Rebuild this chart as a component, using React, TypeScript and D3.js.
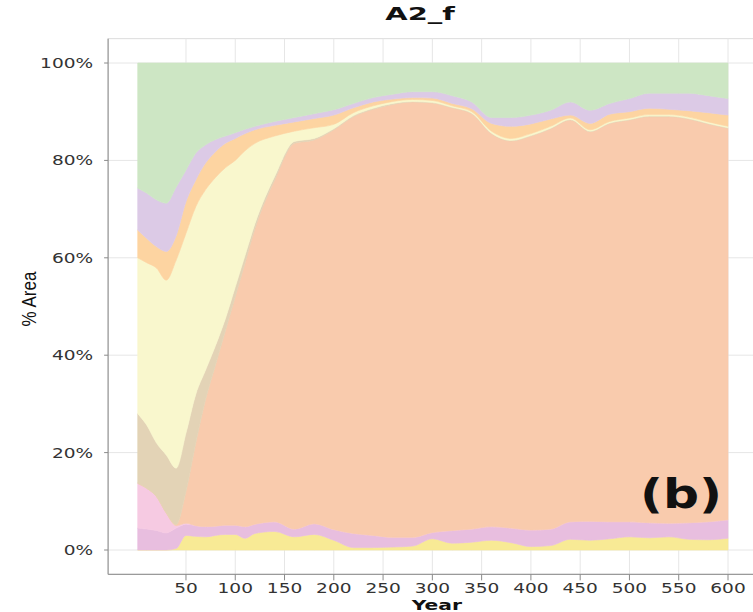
import React, { useEffect, useRef } from "react";
import * as d3 from "d3";

// simulation years (x axis)
const years = [1, 10, 20, 30, 40, 50, 60, 70, 80, 90, 100, 110, 120, 140, 160, 180, 200, 220, 240, 260, 280, 300, 320, 340, 360, 380, 400, 420, 440, 460, 480, 500, 520, 540, 560, 580, 600];

// share of area (%) per class, bottom to top
const yellow = [0, 0, 0, 0, 0.3, 3, 2.8, 2.7, 3, 3.2, 3.2, 2.4, 3.4, 3.8, 2.7, 3.2, 2, 0.5, 0.5, 0.6, 0.8, 2.3, 1.4, 1.6, 2, 1.5, 0.7, 0.9, 2.2, 2, 2.3, 2.7, 2.5, 2.7, 2.2, 2.1, 2.4];
const orchid = [4.5, 4.3, 4, 3.5, 4.2, 2.3, 2.2, 2.1, 1.9, 1.9, 1.9, 2.4, 1.9, 2, 1.6, 2.2, 2.2, 2.9, 2.5, 2, 1.8, 1.3, 2.6, 2.7, 2.8, 3, 3.4, 3.4, 3.6, 3.9, 3.5, 3.1, 3.1, 2.8, 3.4, 3.7, 3.8];
const lightPink = [9.2, 8.4, 7, 4.1, 0.5, 0.2, 0, 0, 0, 0, 0, 0, 0, 0, 0, 0, 0, 0, 0, 0, 0, 0, 0, 0, 0, 0, 0, 0, 0, 0, 0, 0, 0, 0, 0, 0, 0];
const peach = [0, 0, 0, 0, 0.2, 6.5, 17, 26.2, 33.1, 39.9, 46.9, 54.2, 60.7, 70.2, 79.2, 78.8, 82.1, 85.6, 87.5, 88.9, 89.4, 88.2, 86.8, 85.3, 80.7, 79.5, 80.9, 82.2, 82.5, 80, 81.8, 82.5, 83.4, 83.5, 82.9, 81.7, 80.4];
const tan = [14.3, 13, 11, 11.9, 11.6, 12, 10, 6, 4, 2.5, 2, 1.5, 1, 0.7, 0.4, 0.3, 0.2, 0.2, 0.2, 0.2, 0.1, 0.1, 0.1, 0.1, 0.1, 0.1, 0.1, 0.1, 0.1, 0.1, 0.1, 0.1, 0.1, 0.1, 0.1, 0.1, 0.1];
const paleYellow = [32, 33.3, 35.9, 35.9, 42.7, 41, 38.5, 37, 34.5, 31, 26, 21.5, 16.5, 8.3, 2.1, 2.2, 0.9, 0.6, 0.5, 0.4, 0.4, 0.4, 0.3, 0.3, 0.4, 0.4, 0.4, 0.4, 0.3, 0.3, 0.3, 0.3, 0.3, 0.3, 0.3, 0.3, 0.3];
const orange = [5.7, 5, 4.4, 5.9, 5, 6.5, 5.5, 5.5, 5.3, 5, 4.5, 3.5, 2.8, 2.2, 1.9, 1.9, 1.9, 1, 0.8, 0.5, 0.4, 0.5, 0.5, 0.6, 1.6, 2.5, 2, 1.5, 0.6, 1.3, 1.5, 1.3, 1.3, 1.1, 1.3, 1.9, 2.3];
const lavender = [8.6, 9.3, 9.6, 9.9, 10, 6.5, 5.5, 3.7, 2.5, 1.5, 1.2, 0.9, 0.7, 0.8, 0.9, 1, 1.1, 0.9, 0.9, 1, 1.2, 1.3, 1.6, 1.4, 1.2, 1.8, 1.8, 1.8, 2.7, 2.7, 2.2, 2.7, 3.1, 3.3, 3.6, 3.5, 3.4];
const green = [25.7, 26.7, 28.1, 28.8, 25.5, 22, 18.5, 16.8, 15.7, 15, 14.3, 13.6, 13, 12, 11.2, 10.4, 9.6, 8.3, 7.1, 6.4, 5.9, 5.9, 6.7, 8, 11.2, 11.2, 10.7, 9.7, 8, 9.7, 8.3, 7.3, 6.2, 6.2, 6.2, 6.7, 7.3];

const series = [
  { key: "yellow", values: yellow, color: "#f8ea95" },
  { key: "orchid", values: orchid, color: "#e8bedf" },
  { key: "lightPink", values: lightPink, color: "#f6cae2" },
  { key: "peach", values: peach, color: "#f9cbad" },
  { key: "tan", values: tan, color: "#e3d3b6" },
  { key: "paleYellow", values: paleYellow, color: "#f9f7cd" },
  { key: "orange", values: orange, color: "#fdd4a1" },
  { key: "lavender", values: lavender, color: "#dccae6" },
  { key: "green", values: green, color: "#cde6c4" },
];

const xTicks = [50, 100, 150, 200, 250, 300, 350, 400, 450, 500, 550, 600];
const yTicks = [0, 0.2, 0.4, 0.6, 0.8, 1];

const App = () => {
  const ref = useRef<SVGSVGElement>(null);

  useEffect(() => {
    const svg = d3.select(ref.current);
    svg.selectAll("*").remove();

    const x = d3.scaleLinear().domain([0, 600]).range([136.7, 728]);
    const y = d3.scaleLinear().domain([0, 1]).range([550, 63]);

    // ggplot-style 5% expansion around the data
    const left = x(-29);
    const right = x(630);
    const top = y(1.05);
    const bottom = y(-0.05);

    // panel + grid
    svg.append("rect")
      .attr("x", left).attr("y", top)
      .attr("width", right - left).attr("height", bottom - top)
      .attr("fill", "#fff").attr("stroke", "#dcdcdc");

    const grid = svg.append("g").attr("stroke", "#e6e6e6").attr("stroke-width", 1);
    grid.selectAll(".gx").data(xTicks).join("line")
      .attr("x1", (d) => x(d)).attr("x2", (d) => x(d))
      .attr("y1", top).attr("y2", bottom);
    grid.selectAll(".gy").data(yTicks).join("line")
      .attr("x1", left).attr("x2", right)
      .attr("y1", (d) => y(d)).attr("y2", (d) => y(d));

    // stacked areas
    const rows = years.map((yr, i) => {
      const r: any = { year: yr };
      series.forEach((s) => (r[s.key] = s.values[i]));
      return r;
    });
    const stacked = d3.stack()
      .keys(series.map((s) => s.key))
      .offset(d3.stackOffsetExpand)(rows);

    const area = d3.area<any>()
      .x((d) => x(d.data.year))
      .y0((d) => y(d[0]))
      .y1((d) => y(d[1]))
      .curve(d3.curveMonotoneX);

    svg.append("g").selectAll("path").data(stacked).join("path")
      .attr("d", area)
      .attr("fill", (d, i) => series[i].color)
      .attr("stroke", (d, i) => series[i].color)
      .attr("stroke-width", 0.6);

    // axis lines
    svg.append("line")
      .attr("x1", left).attr("x2", left).attr("y1", top).attr("y2", bottom)
      .attr("stroke", "#9a9a9a").attr("stroke-width", 1.2);
    svg.append("line")
      .attr("x1", left).attr("x2", right).attr("y1", bottom).attr("y2", bottom)
      .attr("stroke", "#9a9a9a").attr("stroke-width", 1.2);

    const font = "'DejaVu Sans', sans-serif";

    // x ticks
    const gx = svg.append("g");
    gx.selectAll("line").data(xTicks).join("line")
      .attr("x1", (d) => x(d)).attr("x2", (d) => x(d))
      .attr("y1", bottom).attr("y2", bottom + 6)
      .attr("stroke", "#8a8a8a");
    gx.selectAll("text").data(xTicks).join("text")
      .attr("transform", (d) => `translate(${x(d)},${bottom + 18.5}) scale(1.28,1)`)
      .attr("text-anchor", "middle")
      .attr("font-family", font).attr("font-size", 14.5)
      .attr("fill", "#333")
      .text((d) => d);

    // y ticks
    const gy = svg.append("g");
    gy.selectAll("line").data(yTicks).join("line")
      .attr("x1", left - 4).attr("x2", left)
      .attr("y1", (d) => y(d)).attr("y2", (d) => y(d))
      .attr("stroke", "#8a8a8a");
    gy.selectAll("text").data(yTicks).join("text")
      .attr("transform", (d) => `translate(${left - 15},${y(d) + 5}) scale(1.28,1)`)
      .attr("text-anchor", "end")
      .attr("font-family", font).attr("font-size", 14.5)
      .attr("fill", "#333")
      .text((d) => d3.format(".0%")(d));

    // titles
    svg.append("text")
      .attr("transform", `translate(420,20) scale(1.7,1)`)
      .attr("text-anchor", "middle")
      .attr("font-family", font).attr("font-weight", "bold").attr("font-size", 17)
      .attr("fill", "#111")
      .text("A2_f");

    svg.append("text")
      .attr("transform", `translate(${(left + right) / 2 + 4},610) scale(1.45,1)`)
      .attr("text-anchor", "middle")
      .attr("font-family", font).attr("font-weight", "bold").attr("font-size", 14)
      .attr("fill", "#111")
      .text("Year");

    svg.append("text")
      .attr("transform", `translate(36,299) scale(1.2,1) rotate(-90)`)
      .attr("text-anchor", "middle")
      .attr("font-family", "'Liberation Sans', Arial, sans-serif").attr("font-size", 17)
      .attr("fill", "#111")
      .text("% Area");

    svg.append("text")
      .attr("transform", `translate(681,508) scale(1.26,1)`)
      .attr("text-anchor", "middle")
      .attr("font-family", font).attr("font-weight", "bold").attr("font-size", 40)
      .attr("fill", "#111")
      .text("(b)");
  }, []);

  return (
    <svg
      ref={ref}
      width={753}
      height={612}
      style={{ position: "absolute", left: 0, top: 0, background: "#fff" }}
    />
  );
};

export default App;
